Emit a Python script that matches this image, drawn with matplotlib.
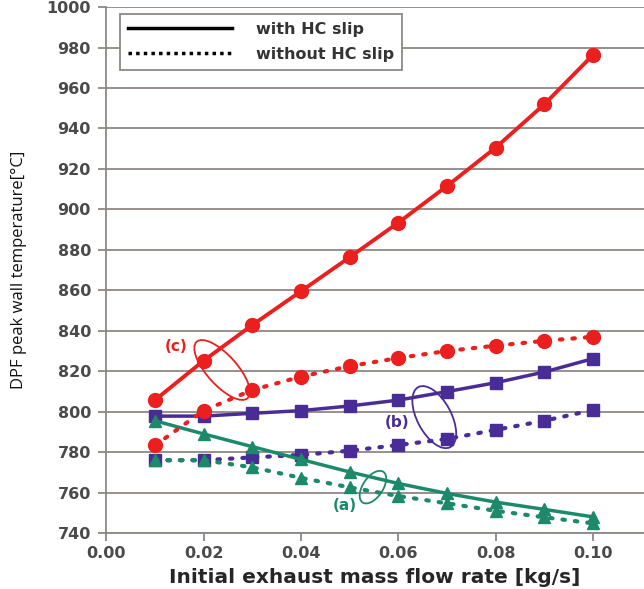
import matplotlib
matplotlib.use("Agg")
import matplotlib.pyplot as plt
from matplotlib.patches import Ellipse
from matplotlib.transforms import ScaledTranslation
from matplotlib.lines import Line2D

flow = [0.01, 0.02, 0.03, 0.04, 0.05, 0.06, 0.07, 0.08, 0.09, 0.10]
c_with = [805.7, 825.2, 842.8, 859.5, 876.3, 893.4, 911.5, 930.5, 951.9, 976.3]
c_without = [783.3, 800.5, 810.7, 817.3, 822.5, 826.5, 830.0, 832.6, 835.0, 837.0]
b_with = [797.8, 797.8, 799.2, 800.5, 802.8, 805.7, 809.9, 814.3, 819.6, 826.2]
b_without = [776.0, 776.0, 777.4, 778.6, 780.7, 783.5, 786.5, 791.0, 795.5, 800.8]
a_with = [795.5, 789.0, 782.7, 776.4, 770.2, 764.5, 759.6, 755.3, 751.7, 748.0]
a_without = [776.0, 776.0, 772.5, 767.3, 762.6, 758.3, 754.7, 751.0, 747.8, 744.8]

xticks = [0.00, 0.02, 0.04, 0.06, 0.08, 0.10]
yticks = [740, 760, 780, 800, 820, 840, 860, 880, 900, 920, 940, 960, 980, 1000]

RED = "#EC1F1F"
PURPLE = "#4A2C96"
GREEN = "#1C8A6A"
GRID = "#8E8884"

fig = plt.figure(figsize=(6.44, 5.89), dpi=100)
ax = fig.add_axes([0.165, 0.095, 0.835, 0.893])

dot = (0, (0.6, 2.4))

ax.plot(flow, b_without, color=PURPLE, lw=3, ls=dot, dash_capstyle="round",
        marker="s", ms=9, zorder=3)
ax.plot(flow, b_with, color=PURPLE, lw=2.5, marker="s", ms=9, zorder=3)
ax.plot(flow, a_without, color=GREEN, lw=3, ls=dot, dash_capstyle="round",
        marker="^", ms=9, zorder=4)
ax.plot(flow, a_with, color=GREEN, lw=2.5, marker="^", ms=9, zorder=4)
ax.plot(flow, c_without, color=RED, lw=3, ls=dot, dash_capstyle="round",
        marker="o", ms=10, zorder=5)
ax.plot(flow, c_with, color=RED, lw=2.8, marker="o", ms=10, zorder=5)

ax.set_xlim(0, 0.1105)
ax.set_ylim(740, 1000)
ax.set_xticks(xticks)
ax.set_xticklabels([f"{v:.2f}" for v in xticks])
ax.set_yticks(yticks)
ax.set_yticklabels([str(v) for v in yticks])

ax.grid(axis="y", color=GRID, lw=1.3)
ax.set_axisbelow(True)
for s in ["top", "right"]:
    ax.spines[s].set_visible(False)
for s in ["left", "bottom"]:
    ax.spines[s].set_color(GRID)
    ax.spines[s].set_linewidth(1.3)
ax.tick_params(axis="both", colors=GRID, width=1.3, length=6,
               labelcolor="#4a4a4a", labelsize=11.5)
ax.tick_params(axis="y", pad=5)
for lab in ax.get_xticklabels() + ax.get_yticklabels():
    lab.set_fontweight("bold")

ax.set_xlabel("Initial exhaust mass flow rate [kg/s]", fontsize=14.5,
              fontweight="bold", color="#262626", labelpad=5)
ax.set_ylabel("DPF peak wall temperature[°C]", fontsize=12,
              family="Open Sans", color="#111111", labelpad=14)

handles = [Line2D([], [], color="black", lw=2.5),
           Line2D([], [], color="black", lw=2.5, ls=(0, (1, 1.2)))]
leg = ax.legend(handles, ["with HC slip", "without HC slip"],
                loc="upper left", bbox_to_anchor=(120 / 644, 1 - 14 / 589),
                bbox_transform=fig.transFigure, fancybox=False,
                edgecolor=GRID, framealpha=1, handlelength=6.5,
                handletextpad=1.5, borderpad=0.5, labelspacing=0.6,
                borderaxespad=0, prop={"size": 11.5, "weight": "bold"})
leg.get_frame().set_linewidth(1.3)
for t in leg.get_texts():
    t.set_color("#333333")


def ell(x, y, w, h, ang, color):
    tr = fig.dpi_scale_trans + ScaledTranslation(x, y, ax.transData)
    e = Ellipse((0, 0), w / 100, h / 100, angle=ang, transform=tr,
                fill=False, edgecolor=color, lw=1.3, zorder=6)
    ax.add_patch(e)


ell(0.0238, 820.6, 76, 30, -48, RED)
ell(0.0674, 797.3, 68, 34, -62, PURPLE)
ell(0.0548, 762.7, 37, 20, 56, GREEN)

ax.text(0.0144, 832, "(c)", color=RED, fontsize=11, fontweight="bold",
        ha="center", va="center")
ax.text(0.0597, 794.6, "(b)", color=PURPLE, fontsize=11, fontweight="bold",
        ha="center", va="center")
ax.text(0.0491, 753.8, "(a)", color=GREEN, fontsize=11, fontweight="bold",
        ha="center", va="center")

fig.savefig("out.png", dpi=100)
